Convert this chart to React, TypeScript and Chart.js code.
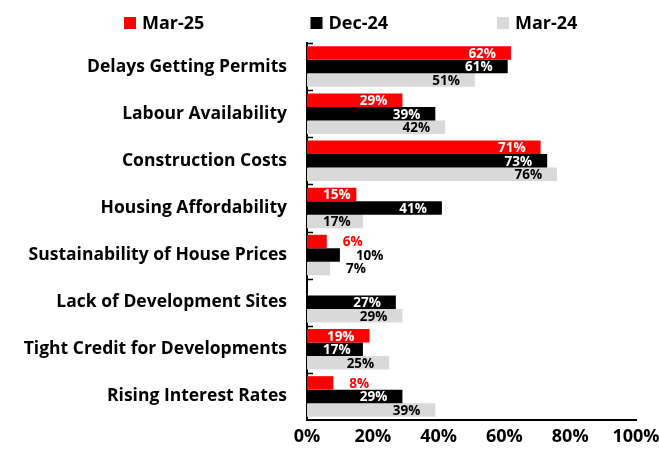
import React, { useEffect, useRef } from "react";
import { Chart, registerables } from "chart.js";

Chart.register(...registerables);

const categories = [
  "Delays Getting Permits",
  "Labour Availability",
  "Construction Costs",
  "Housing Affordability",
  "Sustainability of House Prices",
  "Lack of Development Sites",
  "Tight Credit for Developments",
  "Rising Interest Rates",
];
const seriesNames = ["Mar-25", "Dec-24", "Mar-24"];
const mar25 = [62, 29, 71, 15, 6, null, 19, 8];
const dec24 = [61, 39, 73, 41, 10, 27, 17, 29];
const mar24 = [51, 42, 76, 17, 7, 29, 25, 39];
const xTicks = [0, 20, 40, 60, 80, 100];

const colors = ["#ff0000", "#000000", "#d9d9d9"];
const insideText = ["#ffffff", "#ffffff", "#000000"];
const outsideText = ["#ff0000", "#000000", "#000000"];
const FONT = "'Open Sans'";

const labelPlugin = {
  id: "barLabels",
  afterDatasetsDraw(chart: any) {
    const ctx = chart.ctx;
    ctx.save();
    ctx.font = `bold 13.5px ${FONT}`;
    ctx.textBaseline = "middle";
    chart.data.datasets.forEach((ds: any, di: number) => {
      const meta = chart.getDatasetMeta(di);
      meta.data.forEach((el: any, i: number) => {
        const v = ds.data[i];
        if (v === null || v === undefined) return;
        const text = `${v}%`;
        const tw = ctx.measureText(text).width;
        const w = el.x - el.base;
        ctx.textAlign = "left";
        if (w < tw + 12) {
          ctx.fillStyle = outsideText[di];
          ctx.fillText(text, el.x + 16, el.y + 1);
        } else {
          const right = Math.max(el.x - 15, el.base + 16 + tw);
          ctx.fillStyle = insideText[di];
          ctx.fillText(text, right - tw, el.y + 1);
        }
      });
    });
    ctx.restore();
  },
};

const axisMarksPlugin = {
  id: "axisMarks",
  afterDraw(chart: any) {
    const ctx = chart.ctx;
    const y = chart.scales.y;
    const area = chart.chartArea;
    ctx.save();
    ctx.strokeStyle = "#000";
    ctx.lineWidth = 1.5;
    const n = chart.data.labels.length;
    const step = (area.bottom - area.top) / n;
    for (let i = 0; i < n; i++) {
      const py = Math.round(y.getPixelForValue(i) - step / 2) + 0.5;
      ctx.beginPath();
      ctx.moveTo(area.left, py);
      ctx.lineTo(area.left + 6, py);
      ctx.stroke();
    }
    ctx.restore();
  },
};

const legendPlugin = {
  id: "customLegend",
  afterDraw(chart: any) {
    const ctx = chart.ctx;
    ctx.save();
    ctx.font = `bold 18px ${FONT}`;
    ctx.textBaseline = "alphabetic";
    ctx.textAlign = "left";
    chart.data.datasets.forEach((ds: any, di: number) => {
      const x0 = 124 + di * 186.5;
      ctx.fillStyle = colors[di];
      ctx.fillRect(x0, 17, 12, 12);
      ctx.fillStyle = "#000";
      ctx.fillText(ds.label, x0 + 18, 29);
    });
    ctx.restore();
  },
};

export default function App() {
  const ref = useRef<HTMLCanvasElement | null>(null);
  useEffect(() => {
    if (!ref.current) return;
    const series = [mar25, dec24, mar24];
    const chart = new Chart(ref.current, {
      type: "bar",
      data: {
        labels: categories,
        datasets: seriesNames.map((name, i) => ({
          label: name,
          data: series[i] as any,
          backgroundColor: colors[i],
          borderWidth: 0,
          categoryPercentage: 0.86,
          barPercentage: 1.0,
        })),
      },
      options: {
        indexAxis: "y",
        responsive: false,
        animation: false,
        layout: { padding: { top: 43, right: 23, left: 0, bottom: 0 } },
        plugins: {
          legend: { display: false },
          tooltip: { enabled: false },
        },
        scales: {
          x: {
            min: 0,
            max: 100,
            afterBuildTicks: (s: any) => {
              s.ticks = xTicks.map((v) => ({ value: v }));
            },
            ticks: {
              callback: (v: any) => `${v}%`,
              font: { family: "Open Sans", weight: "bold", size: 18 },
              color: "#000",
              padding: 6,
              maxRotation: 0,
            },
            grid: { display: false, drawTicks: false },
            border: { display: true, color: "#000", width: 2 },
            afterFit: (s: any) => {
              s.height = 34;
              s.paddingLeft = 0;
              s.paddingRight = 0;
            },
          },
          y: {
            ticks: {
              font: { family: "Open Sans", weight: "bold", size: 17.5 },
              color: "#000",
              padding: 20,
            },
            grid: { display: false, drawTicks: false },
            border: { display: true, color: "#000", width: 2 },
            afterFit: (s: any) => {
              s.width = 307;
            },
          },
        },
      } as any,
      plugins: [labelPlugin, axisMarksPlugin, legendPlugin],
    });
    return () => chart.destroy();
  }, []);
  return (
    <div style={{ position: "fixed", left: 0, top: 0, width: 659, height: 454, background: "#fff" }}>
      <canvas ref={ref} width={659} height={454} style={{ width: 659, height: 454 }} />
    </div>
  );
}
